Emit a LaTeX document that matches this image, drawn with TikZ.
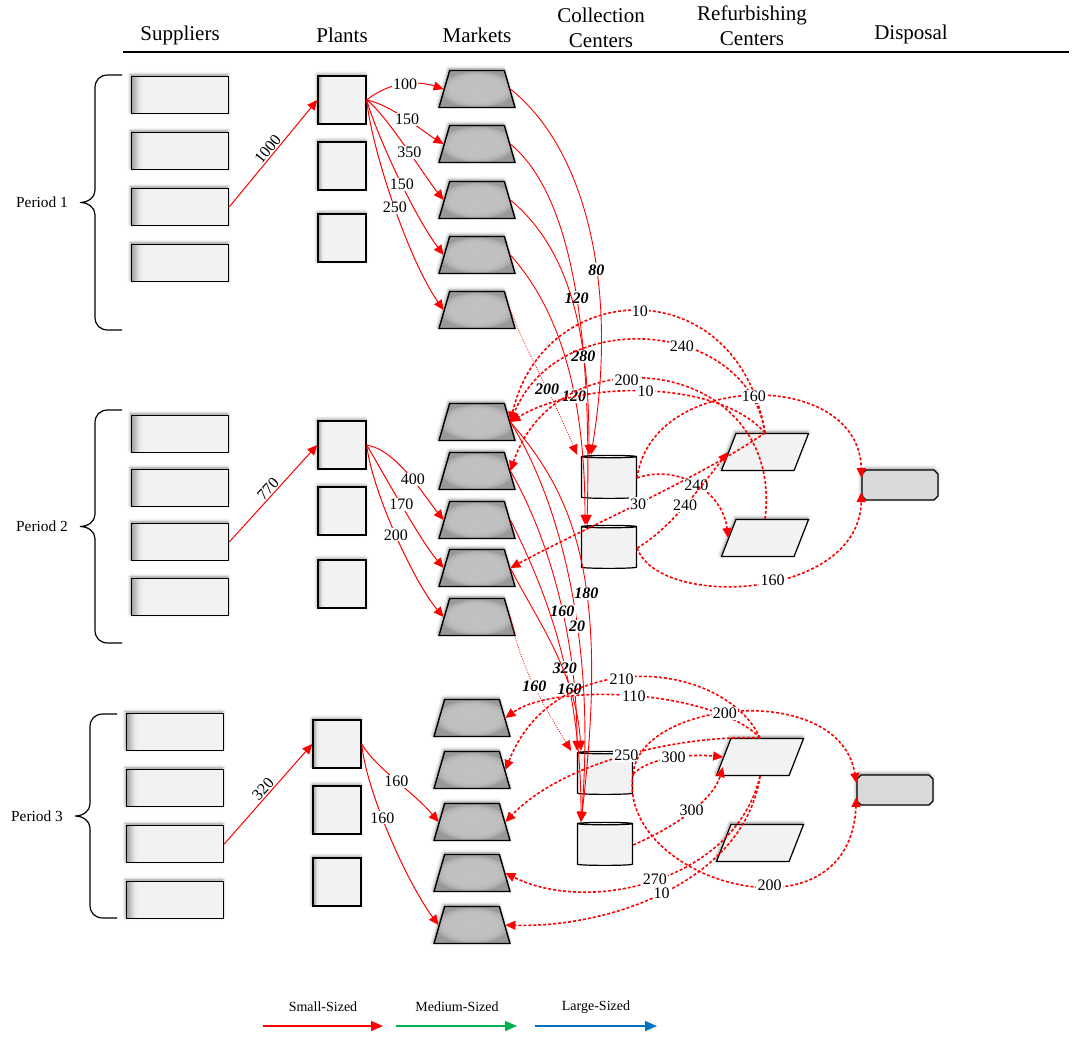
\documentclass[tikz,border=0pt]{standalone}
\usepackage{fontspec}
\setmainfont{Liberation Serif}
\usepackage{xcolor}
\usetikzlibrary{arrows.meta,shapes.geometric,shapes.misc,shadows.blur}

\definecolor{medgreen}{HTML}{00B050}
\definecolor{largeblue}{HTML}{0070C0}
\pgfdeclarehorizontalshading{boxshade}{100bp}{color(0bp)=(gray!75); color(25bp)=(gray!75); color(29bp)=(gray!18); color(32bp)=(gray!10); color(100bp)=(gray!10)}
\pgfdeclareradialshading{mktshade}{\pgfpoint{0bp}{0bp}}{color(0bp)=(gray!48); color(18bp)=(gray!50); color(22bp)=(gray!60); color(25bp)=(gray!80); color(50bp)=(gray!80)}

\tikzset{
    hd/.style={font=\fontsize{10.5}{12.5}\selectfont, align=center},
    per/.style={font=\fontsize{7.7}{9}\selectfont},
    leg/.style={font=\fontsize{7}{8}\selectfont},
    shd/.style={blur shadow={shadow xshift=-0.4pt, shadow yshift=0.8pt, shadow blur radius=1.6pt, shadow opacity=45}},
    sup/.style={draw, line width=0.7pt, shade, shading=boxshade, minimum width=48.5pt, minimum height=18.5pt, inner sep=0pt, shd},
    plt/.style={sup, minimum width=24pt, minimum height=24pt},
    mkt/.style={draw, line width=0.7pt, trapezium, trapezium left angle=79, trapezium right angle=79, trapezium stretches=true, minimum width=38pt, minimum height=18.5pt, inner sep=1pt, shade, shading=mktshade, shd},
    ccn/.style={draw, line width=0.6pt, cylinder, shape border rotate=90, aspect=0.6, cylinder uses custom fill, cylinder body fill=gray!10, cylinder end fill=white, minimum width=27.5pt, minimum height=21.5pt, inner sep=1pt},
    rcn/.style={draw, line width=0.6pt, trapezium, trapezium left angle=76, trapezium right angle=104, trapezium stretches=true, minimum width=43.5pt, minimum height=18.5pt, inner sep=1pt, fill=gray!10, shd},
    dsp/.style={draw, line width=0.6pt, chamfered rectangle, chamfered rectangle xsep=3.5pt, chamfered rectangle ysep=3.5pt, minimum width=38pt, minimum height=15pt, inner sep=1pt, fill=gray!30, shd},
    flow/.style={red, line width=0.5pt, -{Triangle[length=5pt,width=4.5pt]}},
    mflow/.style={flow, line width=0.45pt},
    dflow/.style={flow, line width=0.35pt, dash pattern=on 0.5pt off 0.7pt},
    ret/.style={flow, line width=0.8pt, dash pattern=on 1.5pt off 1pt},
    legar/.style={line width=0.7pt, -{Triangle[length=6pt,width=5pt]}},
    lbl/.style={fill=white, text=black, inner sep=0.6pt, font=\fontsize{8}{9}\selectfont},
    blbl/.style={lbl, font=\fontsize{8}{9}\selectfont\bfseries\itshape}
}

\begin{document}
\begin{tikzpicture}[x=0.5pt, y=-0.5pt]
            \useasboundingbox (0,0) rectangle (1075,1039);

            \node[hd] (hsup) at (180,35) {Suppliers};
            \node[hd] (hpl) at (342,35) {Plants};
            \node[hd] (hmk) at (477,35) {Markets};
            \node[hd] (hcc) at (601,28) {Collection\\Centers};
            \node[hd] (hrc) at (752,26) {Refurbishing\\Centers};
            \node[hd] (hdp) at (911,34) {Disposal};
            \coordinate (hl) at (123,52);
            \coordinate (hr) at (1069,52);
            \draw[line width=1pt] (hl) -- (hr);

            \foreach \t/\b/\n/\d in {75/330/1/0, 410/643/2/0, 714/918/3/-5}{
                \pgfmathsetmacro\m{(\t+\b)/2}
                \draw[line width=0.6pt] (122+\d,\t) -- (108+\d,\t) .. controls (100+\d,\t) and (95+\d,\t+5) .. (95+\d,\t+13) -- (95+\d,\m-12) .. controls (95+\d,\m-5) and (88+\d,\m) .. (80+\d,\m) .. controls (88+\d,\m) and (95+\d,\m+5) .. (95+\d,\m+12) -- (95+\d,\b-13) .. controls (95+\d,\b-5) and (100+\d,\b) .. (108+\d,\b) -- (122+\d,\b);
                \node[per, anchor=east] (per\n) at (75+\d,\m) {Period \n};
            }

            \foreach \y [count=\i] in {95,151,207,263} \node[sup] (s1-\i) at (180,\y) {};
            \foreach \y [count=\i] in {100,166,238} \node[plt] (p1-\i) at (342,\y) {};
            \foreach \y [count=\i] in {89,144,200,255,310} \node[mkt] (m1-\i) at (477,\y) {};

            \foreach \y [count=\i] in {434,488,542,597} \node[sup] (s2-\i) at (180,\y) {};
            \foreach \y [count=\i] in {445,511,584} \node[plt] (p2-\i) at (342,\y) {};
            \foreach \y [count=\i] in {422,471,520,568,617} \node[mkt] (m2-\i) at (477,\y) {};
            \foreach \y [count=\i] in {478,548} \node[ccn] (cc\i-2) at (609,\y) {};
            \foreach \y [count=\i] in {452,538} \node[rcn] (rc\i-2) at (765,\y) {};
            \node[dsp] (disp2) at (900,485) {};

            \foreach \y [count=\i] in {732,788,844,900} \node[sup] (s3-\i) at (175,\y) {};
            \foreach \y [count=\i] in {744,810,882} \node[plt] (p3-\i) at (337,\y) {};
            \foreach \y [count=\i] in {718,770,822,873,925} \node[mkt] (m3-\i) at (472,\y) {};
            \foreach \y [count=\i] in {774,845} \node[ccn] (cc\i-3) at (605,\y) {};
            \foreach \y [count=\i] in {757,843} \node[rcn] (rc\i-3) at (760,\y) {};
            \node[dsp] (disp3) at (895,790) {};

            \draw[flow] (s1-3.east) -- node[sloped, above, lbl, fill=none] {1000} (p1-1.west);
            \draw[flow] (p1-1.east) .. controls +(25,-20) and +(-25,-8) .. node[lbl] {100} (m1-1.west);
            \draw[flow] (p1-1.east) .. controls +(25,5) and +(-20,-12) .. node[lbl] {150} (m1-2.west);
            \draw[flow] (p1-1.east) .. controls +(20,15) and +(-20,-25) .. node[lbl, pos=.55] {350} (m1-3.west);
            \draw[flow] (p1-1.east) .. controls +(10,35) and +(-30,-40) .. node[lbl, pos=.55] {150} (m1-4.west);
            \draw[flow] (p1-1.east) .. controls +(5,50) and +(-35,-50) .. node[lbl, pos=.51] {250} (m1-5.west);

            \draw[mflow] (m1-1.east) .. controls +(75,60) and +(28,-170) .. node[blbl, pos=.6] {80} ([xshift=-9pt]cc1-2.north);
            \draw[mflow] (m1-2.east) .. controls +(60,50) and +(5,-200) .. node[blbl, pos=.55] {120} ([xshift=-11pt]cc2-2.north);
            \draw[mflow] (m1-3.east) .. controls +(60,50) and +(0,-120) .. node[blbl, pos=.7] {280} ([xshift=-10pt]cc1-2.north);
            \draw[mflow] (m1-4.east) .. controls +(40,45) and +(0,-150) .. node[blbl, pos=.66] {120} ([xshift=-12pt]cc2-2.north);
            \draw[dflow] (m1-5.east) .. controls +(15,40) and +(-25,-60) .. node[blbl, pos=.6] {200} ([xshift=-16pt]cc1-2.north);

            \draw[flow] (s2-3.east) -- node[sloped, above, lbl, fill=none] {770} (p2-1.west);
            \draw[flow] (p2-1.east) .. controls +(30,5) and +(-20,-25) .. node[lbl, pos=.55] {400} (m2-3.west);
            \draw[flow] (p2-1.east) .. controls +(15,25) and +(-25,-30) .. node[lbl] {170} (m2-4.west);
            \draw[flow] (p2-1.east) .. controls +(5,45) and +(-30,-35) .. node[lbl] {200} (m2-5.west);

            \draw[mflow] (m2-1.east) .. controls +(60,70) and +(30,-250) .. node[blbl, pos=.6] {180} ([xshift=-12pt]cc2-3.north);
            \draw[mflow] (m2-1.east) .. controls +(50,80) and +(15,-180) .. node[blbl, pos=.6] {20} ([xshift=-12pt]cc2-3.north);
            \draw[mflow] (m2-2.east) .. controls +(35,60) and +(0,-120) .. node[blbl, pos=.58] {160} ([xshift=-14pt]cc1-3.north);
            \draw[mflow] (m2-3.east) .. controls +(30,60) and +(0,-150) .. node[blbl, pos=.6] {320} ([xshift=-12pt]cc2-3.north);
            \draw[mflow] (m2-4.east) .. controls +(25,50) and +(-5,-80) .. node[blbl, pos=.72] {160} ([xshift=-12pt]cc1-3.north);
            \draw[dflow] (m2-5.east) .. controls +(10,50) and +(-30,-50) .. node[blbl, pos=.52] {160} ([xshift=-17pt]cc1-3.north);

            \draw[ret] (rc1-2.north) .. controls +(-27,-164) and +(33,-146) .. node[lbl] {10} (m2-1.east);
            \draw[ret] (rc1-2.north) .. controls +(-17,-114) and +(48,-118) .. node[lbl, pos=.4] {240} (m2-1.east);
            \draw[ret] (rc2-2.north) .. controls +(20,-160) and +(48,-143) .. node[lbl, pos=.6] {200} (m2-2.east);
            \draw[ret] (rc1-2.north) .. controls +(-47,-54) and +(68,-42) .. node[lbl] {10} (m2-1.east);
            \draw[ret] (rc1-2.north) .. controls +(-67,46) and +(68,-37) .. node[lbl] {30} (m2-4.east);
            \draw[ret] (cc1-2.east) .. controls +(42,-15) and +(-5,-45) .. node[lbl] {240} (rc2-2.west);
            \draw[ret] (cc2-2.east) .. controls +(32,-18) and +(-25,32) .. node[lbl] {240} (rc1-2.west);
            \draw[ret] (cc1-2.east) .. controls +(14,-108) and +(-2,-110) .. node[lbl] {160} ([yshift=3.5pt]disp2.west);
            \draw[ret] (cc2-2.east) .. controls +(22,62) and +(-2,108) .. node[lbl, pos=.55] {160} ([yshift=-3.5pt]disp2.west);

            \draw[flow] (s3-3.east) -- node[sloped, above, lbl, fill=none] {320} (p3-1.west);
            \draw[flow] (p3-1.east) .. controls +(15,25) and +(-25,-30) .. node[lbl] {160} (m3-3.west);
            \draw[flow] (p3-1.east) .. controls +(5,50) and +(-30,-40) .. node[lbl, pos=.4] {160} (m3-5.west);

            \draw[ret] (rc1-3.north) .. controls +(-36,-78) and +(49,-126) .. node[lbl, pos=.55] {210} (m3-2.east);
            \draw[ret] (rc1-3.north) .. controls +(-46,-48) and +(49,-36) .. node[lbl] {110} (m3-1.east);
            \draw[ret] (rc1-3.north) .. controls +(-76,-3) and +(59,-62) .. node[lbl] {250} (m3-3.east);
            \draw[ret] (cc1-3.east) .. controls +(18,-18) and +(-30,-3) .. node[lbl] {300} (rc1-3.west);
            \draw[ret] (cc2-3.east) .. controls +(46,-20) and +(-10,32) .. node[lbl] {300} ([yshift=-5pt]rc1-3.west);
            \draw[ret] (rc1-3.south) .. controls +(-25,105) and +(84,42) .. node[lbl] {270} (m3-4.east);
            \draw[ret] (rc1-3.south) .. controls +(-15,103) and +(108,3) .. node[lbl, pos=.52] {10} (m3-5.east);
            \draw[ret] (cc1-3.east) .. controls +(6,-74) and +(-17,-103) .. node[lbl, pos=.45] {200} ([yshift=3.5pt]disp3.west);
            \draw[ret] (cc1-3.east) .. controls +(-18,106) and +(-7,153) .. node[lbl, pos=.6] {200} ([yshift=-3.5pt]disp3.west);

            \node[leg] (lsm) at (323,1007) {Small-Sized};
            \node[leg] (lmd) at (457,1007) {Medium-Sized};
            \node[leg] (llg) at (596,1007) {Large-Sized};
            \coordinate (sm1) at (263,1026);
            \coordinate (sm2) at (383,1026);
            \coordinate (md1) at (396,1026);
            \coordinate (md2) at (517,1026);
            \coordinate (lg1) at (535,1026);
            \coordinate (lg2) at (657,1026);
            \draw[legar, red] (sm1) -- (sm2);
            \draw[legar, medgreen] (md1) -- (md2);
            \draw[legar, largeblue] (lg1) -- (lg2);
\end{tikzpicture}
\end{document}
